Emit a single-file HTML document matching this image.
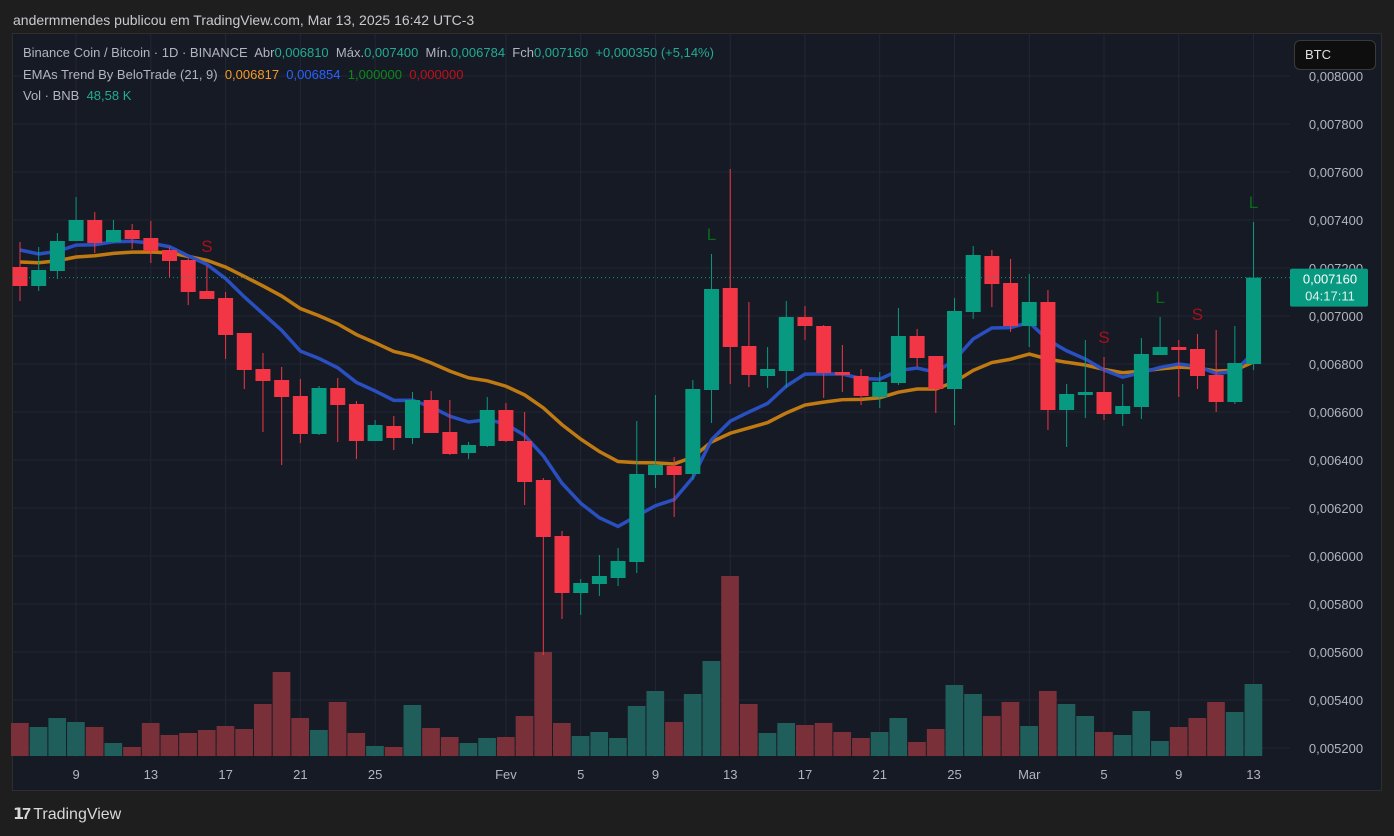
<!DOCTYPE html>
<html><head><meta charset="utf-8"><style>
body{margin:0;background:#1e1e1e;width:1394px;height:836px;overflow:hidden;font-family:"Liberation Sans",sans-serif;}
#hdr{position:absolute;left:13px;top:12px;font-size:14px;color:#c8cad0;}
#panel{position:absolute;left:12px;top:33px;width:1370px;height:758px;background:#161a25;border:1px solid #2e2e2e;box-sizing:border-box;}
.leg{position:absolute;left:23px;font-size:13px;color:#b2b5be;white-space:pre;}
#btc{position:absolute;left:1294px;top:40px;width:82px;height:30px;background:#0e0e0e;border:1px solid #3a3a3a;border-radius:6px;box-sizing:border-box;color:#e0e0e0;font-size:13px;line-height:28px;padding-left:10px;}
#tv{position:absolute;left:13px;top:804px;font-size:16px;color:#d8d8d8;}
</style></head><body>
<div id="hdr">andermmendes publicou em TradingView.com, Mar 13, 2025 16:42 UTC-3</div>
<div id="panel"></div>
<svg id="chart" width="1394" height="836" style="position:absolute;left:0;top:0"></svg>
<div class="leg" style="top:45px">Binance Coin / Bitcoin · 1D · BINANCE  Abr<span style="color:#22ab94">0,006810</span>  Máx.<span style="color:#22ab94">0,007400</span>  Mín.<span style="color:#22ab94">0,006784</span>  Fch<span style="color:#22ab94">0,007160  +0,000350 (+5,14%)</span></div>
<div class="leg" style="top:67px">EMAs Trend By BeloTrade (21, 9)  <span style="color:#f59a23">0,006817</span>  <span style="color:#2962ff">0,006854</span>  <span style="color:#0b8a1a">1,000000</span>  <span style="color:#c0101a">0,000000</span></div>
<div class="leg" style="top:88px">Vol · BNB  <span style="color:#22ab94">48,58 K</span></div>
<div id="btc">BTC</div>
<div id="tv"><b style="letter-spacing:-2px">𝟭7</b> TradingView</div>
<script>
const opens=[267,286,271,241,220,242,230,238,250,260,291,298,333,369,380,396,434,388,404,441,426,438,400,432,453,446,410,441,480,536,593,584,578,562,475,466,474,390,288,346,376,371,317,326,372,376,397,383,336,356,389,312,256,283,326,302,410,395,392,414,407,355,347,349,375,402,364];
const highs=[242,247,233,197,212,220,224,221,247,258,266,292,333,353,367,379,386,378,401,420,416,392,391,400,442,397,403,412,478,531,579,555,548,421,395,457,380,254,169,302,347,301,306,325,345,369,372,308,329,356,298,246,250,259,274,290,384,340,357,384,338,317,340,334,330,326,222];
const lows=[301,291,279,241,253,243,249,263,277,305,299,359,389,432,465,443,435,442,459,441,450,444,433,455,459,447,442,505,655,619,615,596,586,573,488,517,480,423,384,387,388,388,340,398,392,405,408,385,367,413,425,319,307,332,347,430,447,418,420,426,419,355,397,389,412,404,370];
const closes=[286,270,241,220,243,230,239,251,261,292,299,335,370,381,397,434,388,405,441,425,438,400,433,454,445,410,441,482,537,593,583,576,561,474,465,475,389,289,347,375,369,317,326,373,375,396,382,336,358,389,311,255,284,326,302,410,394,392,414,406,354,347,350,376,402,363,277.6];
const volTops=[723,727,718,722,727,743,747,723,735,733,730,726,729,704,672,718,730,702,733,746,747,705,728,737,743,738,737,716,652,723,736,732,738,706,691,722,694,661,576,704,733,723,725,723,732,738,732,718,742,729,685,694,716,702,726,691,704,716,732,735,711,741,727,718,702,712,684];
const priceTicks=[0.0080,0.0078,0.0076,0.0074,0.0072,0.0070,0.0068,0.0066,0.0064,0.0062,0.0060,0.0058,0.0056,0.0054,0.0052];
const dateLabels=["9","13","17","21","25","Fev","5","9","13","17","21","25","Mar","5","9","13"];
const dateIdx=[3,7,11,15,19,26,30,34,38,42,46,50,54,58,62,66];
const markers=[{i:10,t:"S"},{i:37,t:"L"},{i:58,t:"S"},{i:61,t:"L"},{i:63,t:"S"},{i:66,t:"L"}];
const pix2p=y=>0.0078-(y-124)/240000;
const O=opens.map(pix2p),H=highs.map(pix2p),L=lows.map(pix2p),C=closes.map(pix2p);
const V=volTops.map(t=>(756-t)*0.675);
const NS="http://www.w3.org/2000/svg",svg=document.getElementById('chart');
const X=i=>20+i*18.69, Y=p=>124+(0.0078-p)*240000, VY=v=>756-v/0.675;
function el(tag,a){const e=document.createElementNS(NS,tag);for(const k in a)e.setAttribute(k,a[k]);svg.appendChild(e);return e;}
priceTicks.forEach(p=>{const g=el('line',{x1:13,x2:1290,y1:Y(p),y2:Y(p),stroke:'#232734'});


const t=el('text',{x:1336,y:Y(p)+5,'text-anchor':'middle','font-size':13,fill:'#b2b5be','font-family':'Liberation Sans'});t.textContent=p.toFixed(6).replace('.',',');

});
dateIdx.forEach((d,k)=>{const g=el('line',{x1:X(d),x2:X(d),y1:34,y2:757,stroke:'#232734'});


const t=el('text',{x:X(d),y:779,'text-anchor':'middle','font-size':13,fill:'#b2b5be','font-family':'Liberation Sans'});t.textContent=dateLabels[k];

});
V.forEach((v,i)=>{const up=C[i]>=O[i];const r=el('rect',{x:X(i)-9,y:VY(v),width:17.7,height:756-VY(v),fill:up?'#1f5e5a':'#7a3039'});

});
function ema(n,seed){const k=2/(n+1);let e=seed;return C.map((c,i)=>{e=i==0?seed:c*k+e*(1-k);return e;});}
const slow=ema(21,pix2p(262)),fast=ema(9,pix2p(250));
const so=el('polyline',{points:slow.map((v,i)=>X(i)+','+Y(v)).join(' '),fill:'none',stroke:'#c07a12',"stroke-width":3.5});


const fa=el('polyline',{points:fast.map((v,i)=>X(i)+','+Y(v)).join(' '),fill:'none',stroke:'#2a4fc0',"stroke-width":3.5});


O.forEach((o,i)=>{const c=C[i],up=c>=o,col=up?'#089981':'#f23645';
const w=el('line',{x1:X(i),x2:X(i),y1:Y(H[i]),y2:Y(L[i]),stroke:col,'stroke-width':1});


const top=Y(Math.max(o,c)),bot=Y(Math.min(o,c));
const b=el('rect',{x:X(i)-7.5,y:top,width:15,height:Math.max(1,bot-top),fill:col});

});
markers.forEach(m=>{const isS=m.t=="S";const y=Y(H[m.i])-14;
const t=el('text',{x:X(m.i),y:y,'text-anchor':'middle','font-size':17,fill:isS?'#a8101a':'#0b6a1a','font-family':'Liberation Sans'});t.textContent=m.t;

});
const lp=C[C.length-1];
const ln=el('line',{x1:13,x2:1290,y1:Y(lp),y2:Y(lp),stroke:'#089981','stroke-dasharray':'1,3'});


const bx=el('rect',{x:1290,y:Y(lp)-9,width:78,height:38,rx:2,fill:'#089981'});


const t1=el('text',{x:1330,y:Y(lp)+6,'text-anchor':'middle','font-size':13,fill:'#fff','font-family':'Liberation Sans'});t1.textContent=lp.toFixed(6).replace('.',',');


const t2=el('text',{x:1330,y:Y(lp)+23,'text-anchor':'middle','font-size':13,fill:'#e0f0ec','font-family':'Liberation Sans'});t2.textContent='04:17:11';


</script>
</body></html>
